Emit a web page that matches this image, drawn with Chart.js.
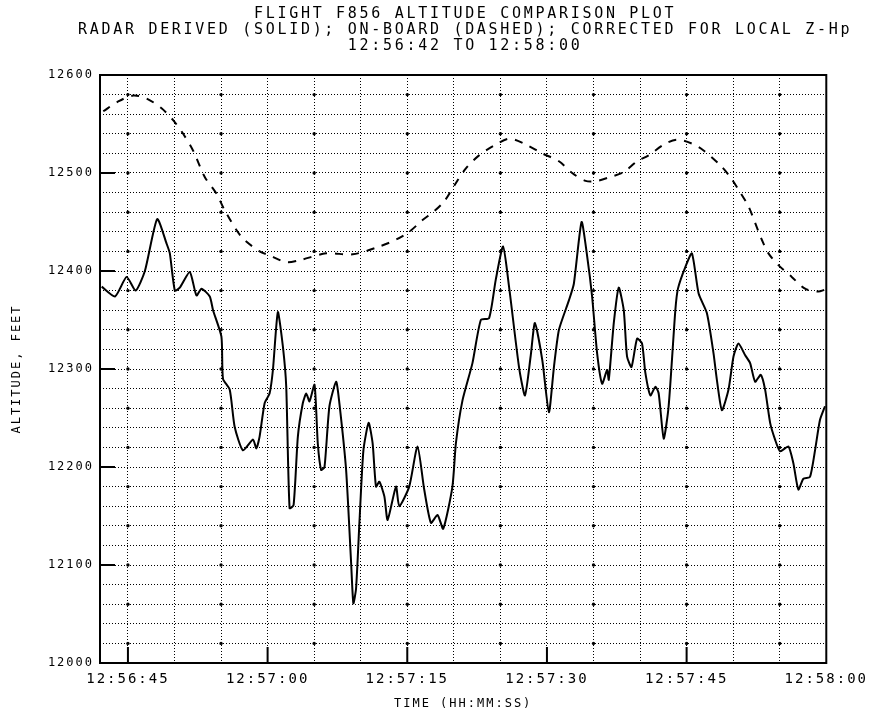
<!DOCTYPE html>
<html>
<head>
<meta charset="utf-8">
<script src="https://cdn.jsdelivr.net/npm/chart.js@4.4.1/dist/chart.umd.min.js"></script>
<style>
  html, body { margin: 0; padding: 0; background: #fff; }
  #wrap { width: 876px; height: 714px; position: relative; }
</style>
</head>
<body>
<div id="wrap"><canvas id="altChart"></canvas></div>
<script>
// Datos (segundos desde 12:56:00, altitud en pies)
const radarTimes = [42.18, 43.61, 44.86, 45.83, 46.82, 48.14, 49.15, 49.5, 50.04, 50.57, 51.64, 52.36, 52.9, 53.79, 54.14, 55.04, 55.21, 55.93, 56.46, 57.35,
    58.43, 58.79, 59.14, 59.68, 60.21, 60.57, 61.1, 61.64, 62.0, 62.36, 62.79, 63.25, 63.78, 64.15, 64.5, 65.04, 65.39, 65.75, 66.11, 66.64,
    67.36, 67.71, 68.43, 68.97, 69.21, 69.5, 69.86, 70.29, 70.85, 71.28, 71.64, 72.0, 72.54, 72.89, 73.79, 74.14, 75.21, 76.1, 76.82, 77.54,
    78.25, 78.86, 79.85, 80.22, 80.93, 82.0, 82.9, 83.79, 84.5, 85.29, 85.93, 87.0, 87.64, 88.25, 88.71, 89.5, 90.21, 90.75, 91.29, 92.36,
    92.89, 93.72, 94.32, 94.85, 95.39, 95.93, 96.46, 96.64, 97.18, 97.71, 98.25, 98.6, 99.08, 99.68, 100.21, 100.57, 101.11, 101.65, 102.0, 102.54,
    103.07, 103.79, 104.07, 104.86, 105.57, 106.29, 107.18, 107.89, 108.25, 108.79, 109.5, 110.04, 110.57, 111.29, 111.82, 112.36, 112.96, 113.43, 113.97, 114.5,
    115.04, 115.93, 116.46, 117.0, 117.54, 118.25, 118.79, 119.32, 119.86];
const radarAlt = [12384, 12374, 12394, 12380, 12400, 12453, 12428, 12418, 12380, 12383, 12399, 12375, 12382, 12374, 12360, 12333, 12290, 12279, 12241, 12217,
    12228, 12219, 12231, 12265, 12275, 12299, 12358, 12323, 12282, 12158, 12161, 12231, 12265, 12275, 12267, 12284, 12224, 12197, 12200, 12262,
    12287, 12265, 12197, 12102, 12061, 12076, 12143, 12217, 12245, 12224, 12180, 12185, 12170, 12146, 12180, 12160, 12180, 12221, 12177, 12143,
    12151, 12137, 12180, 12224, 12268, 12306, 12350, 12352, 12391, 12425, 12384, 12302, 12273, 12313, 12347, 12309, 12256, 12302, 12340, 12370,
    12387, 12450, 12415, 12374, 12316, 12285, 12299, 12289, 12347, 12383, 12360, 12313, 12302, 12331, 12326, 12296, 12273, 12282, 12275, 12229,
    12262, 12360, 12382, 12404, 12418, 12377, 12357, 12316, 12289, 12258, 12279, 12313, 12326, 12314, 12306, 12287, 12294, 12279, 12245, 12228,
    12216, 12221, 12204, 12177, 12188, 12190, 12217, 12248, 12262];

const boardTimes = [42.35, 43.96, 45.57, 47.0, 48.61, 49.85, 50.93, 51.99, 53.25, 54.5, 55.39, 57.18, 59.14, 60.21, 62.0, 63.43, 66.29, 69.14, 72.0, 73.79,
    75.21, 76.64, 77.89, 78.96, 80.04, 81.32, 82.71, 84.32, 85.93, 87.54, 89.5, 91.29, 92.71, 94.15, 95.39, 96.82, 98.25, 99.68, 100.93, 102.54,
    103.96, 105.57, 106.82, 108.61, 109.68, 110.57, 111.64, 112.36, 113.07, 113.79, 114.86, 116.29, 117.72, 119.14, 119.86];
const boardAlt = [12563, 12573, 12579, 12576, 12566, 12554, 12540, 12523, 12496, 12479, 12462, 12435, 12420, 12416, 12409, 12411, 12418, 12417, 12425, 12432,
    12440, 12452, 12461, 12471, 12487, 12505, 12518, 12528, 12535, 12530, 12520, 12512, 12500, 12492, 12492, 12496, 12501, 12512, 12518, 12529,
    12534, 12530, 12523, 12508, 12496, 12483, 12466, 12449, 12432, 12418, 12406, 12394, 12382, 12379, 12381];

// Etiquetas del eje de tiempo
const timeTickValues = [45, 60, 75, 90, 105, 120];
const timeTickLabels = ['12:56:45', '12:57:00', '12:57:15', '12:57:30', '12:57:45', '12:58:00'];

const titleLines = [
    'FLIGHT F856 ALTITUDE COMPARISON PLOT',
    'RADAR DERIVED (SOLID); ON-BOARD (DASHED); CORRECTED FOR LOCAL Z-Hp',
    '12:56:42 TO 12:58:00'
];

const FONT = "'DejaVu Sans Mono', monospace";

// Espaciado de letras tipo plotter
const spacingPlugin = {
    id: 'spacing',
    beforeUpdate(chart) { chart.ctx.letterSpacing = '2px'; },
    beforeDraw(chart) { chart.ctx.letterSpacing = '2px'; }
};

// Título de tres líneas centrado sobre el área del gráfico (sin compresión)
const plotTitlePlugin = {
    id: 'plotTitle',
    afterDraw(chart) {
        const { ctx, chartArea: a } = chart;
        ctx.save();
        ctx.letterSpacing = '2.7px';
        ctx.font = '15px ' + FONT;
        ctx.fillStyle = '#000';
        ctx.textAlign = 'center';
        ctx.textBaseline = 'middle';
        const cx = (a.left + a.right) / 2 + 2;
        titleLines.forEach((line, i) => ctx.fillText(line, cx, 14 + i * 16));
        ctx.restore();
    }
};

// Puntos gruesos en las intersecciones de la rejilla
const gridDotsPlugin = {
    id: 'gridDots',
    beforeDatasetsDraw(chart) {
        const { ctx, scales: { x, y } } = chart;
        ctx.save();
        ctx.fillStyle = '#000';
        for (let t = 45; t < 120; t += 10) {
            for (let v = 12020; v < 12600; v += 40) {
                ctx.beginPath();
                ctx.arc(x.getPixelForValue(t), y.getPixelForValue(v), 1.7, 0, 2 * Math.PI);
                ctx.fill();
            }
        }
        ctx.restore();
    }
};

// Marco y marcas interiores de los ejes
const framePlugin = {
    id: 'frame',
    afterDraw(chart) {
        const { ctx, chartArea: a, scales: { x, y } } = chart;
        ctx.save();
        ctx.strokeStyle = '#000';
        ctx.lineWidth = 2;
        ctx.strokeRect(a.left, a.top, a.right - a.left, a.bottom - a.top);
        ctx.beginPath();
        for (let v = 12100; v < 12600; v += 100) {
            const py = y.getPixelForValue(v);
            ctx.moveTo(a.left, py);
            ctx.lineTo(a.left + 15, py);
        }
        timeTickValues.slice(0, -1).forEach(t => {
            const px = x.getPixelForValue(t);
            ctx.moveTo(px, a.bottom);
            ctx.lineTo(px, a.bottom - 16);
        });
        ctx.stroke();
        ctx.restore();
    }
};

const ctx = document.getElementById('altChart').getContext('2d');
new Chart(ctx, {
    type: 'line',
    data: {
        datasets: [
            {
                label: 'Radar derived',
                data: radarTimes.map((t, i) => ({ x: t, y: radarAlt[i] })),
                borderColor: '#000',
                borderWidth: 2,
                pointRadius: 0,
                tension: 0.2,
                fill: false
            },
            {
                label: 'On-board',
                data: boardTimes.map((t, i) => ({ x: t, y: boardAlt[i] })),
                borderColor: '#000',
                borderWidth: 2,
                borderDash: [8, 8],
                pointRadius: 0,
                tension: 0.3,
                fill: false
            }
        ]
    },
    options: {
        responsive: true,
        maintainAspectRatio: false,
        animation: false,
        layout: { padding: { left: 0, right: 48, top: 75, bottom: 0 } },
        plugins: {
            legend: { display: false },
            tooltip: { enabled: false },
            title: { display: false }
        },
        scales: {
            x: {
                type: 'linear',
                min: 42,
                max: 120,
                afterBuildTicks(scale) {
                    const ticks = [];
                    for (let t = 45; t <= 120; t += 5) ticks.push({ value: t });
                    scale.ticks = ticks;
                },
                afterFit(scale) { scale.height = 51; },
                grid: { color: '#000', lineWidth: 1, drawTicks: false, borderDash: [1, 2] },
                border: { display: false, dash: [1, 2] },
                ticks: {
                    color: '#000',
                    padding: 8,
                    maxRotation: 0,
                    autoSkip: false,
                    font: { family: FONT, size: 14 },
                    callback: (v) => {
                        const i = timeTickValues.indexOf(v);
                        return i >= 0 ? timeTickLabels[i] : '';
                    }
                },
                title: {
                    display: true,
                    text: 'TIME (HH:MM:SS)',
                    color: '#000',
                    font: { family: FONT, size: 12 },
                    padding: { top: 0, bottom: 3 }
                }
            },
            y: {
                min: 12000,
                max: 12600,
                afterFit(scale) { scale.width = 100; },
                grid: { color: '#000', lineWidth: 1, drawTicks: false, borderDash: [1, 2] },
                border: { display: false, dash: [1, 2] },
                ticks: {
                    stepSize: 20,
                    color: '#000',
                    padding: 6,
                    autoSkip: false,
                    font: { family: FONT, size: 12 },
                    callback: (v) => (v % 100 === 0 ? String(v) : '')
                },
                title: {
                    display: true,
                    text: 'ALTITUDE, FEET',
                    color: '#000',
                    font: { family: FONT, size: 12 },
                    padding: { top: 10, bottom: 0 }
                }
            }
        }
    },
    plugins: [spacingPlugin, gridDotsPlugin, framePlugin, plotTitlePlugin]
});
</script>
</body>
</html>
